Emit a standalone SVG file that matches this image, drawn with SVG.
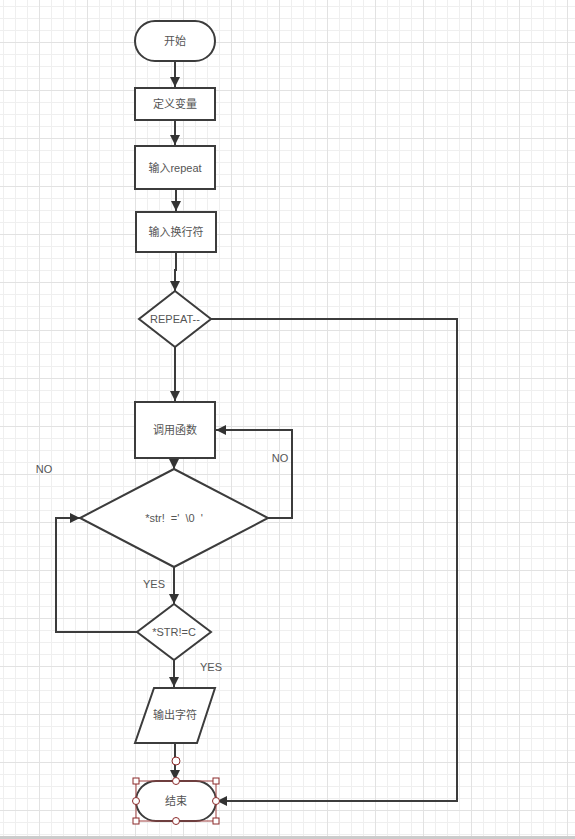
<svg xmlns="http://www.w3.org/2000/svg" width="575" height="839" viewBox="0 0 575 839">
<defs>
<pattern id="minor" width="12" height="12" patternUnits="userSpaceOnUse" x="3" y="6">
<path d="M0.5 0V12M0 0.5H12" fill="none" stroke="#efefef" stroke-width="1"/>
</pattern>
<pattern id="major" width="48" height="48" patternUnits="userSpaceOnUse" x="39" y="42">
<path d="M0.5 0V48M0 0.5H48" fill="none" stroke="#e2e2e2" stroke-width="1"/>
</pattern>
<marker id="arr" markerWidth="10" markerHeight="10" viewBox="0 0 10 10" refX="10" refY="5" orient="auto" markerUnits="userSpaceOnUse">
<path d="M0 0L10 5L0 10Z" fill="#333"/>
</marker>
</defs>
<style>
.n{fill:#fff;stroke:#3c3c3c;stroke-width:2}
.t{font-family:"Liberation Sans","Noto Sans CJK SC",sans-serif;font-size:11px;fill:#555;text-anchor:middle;dominant-baseline:central}
.e{fill:none;stroke:#3c3c3c;stroke-width:2}
.h{fill:#fff;stroke:#8b2a2a;stroke-width:1}
</style>
<rect width="575" height="839" fill="#fff"/>
<rect width="575" height="839" fill="url(#minor)"/>
<rect width="575" height="839" fill="url(#major)"/>
<rect x="0" y="836" width="575" height="3" fill="#cccccc"/>

<g id="connectors">
<path class="e" d="M175 61V87" marker-end="url(#arr)"/>
<path class="e" d="M175 120V145" marker-end="url(#arr)"/>
<path class="e" d="M176 189V211" marker-end="url(#arr)"/>
<path class="e" d="M176 252V270H175V291" marker-end="url(#arr)"/>
<path class="e" d="M175 347V401" marker-end="url(#arr)"/>
<path class="e" d="M174 458V469" marker-end="url(#arr)"/>
<path class="e" d="M268 518H292V430H216" marker-end="url(#arr)"/>
<path class="e" d="M174 567V604" marker-end="url(#arr)"/>
<path class="e" d="M137 632H56V518H80" marker-end="url(#arr)"/>
<path class="e" d="M174 660V687" marker-end="url(#arr)"/>
<path class="e" d="M175 743V780" marker-end="url(#arr)"/>
<path class="e" d="M211 319H457V801H217" marker-end="url(#arr)"/>
<text class="t" x="44" y="469">NO</text>
<text class="t" x="280" y="458">NO</text>
<text class="t" x="154" y="584">YES</text>
<text class="t" x="211" y="667">YES</text>
</g>

<g id="start">
<rect class="n" x="135" y="21" width="80" height="40" rx="20"/>
<text class="t" x="175" y="41">开始</text>
</g>
<g id="define">
<rect class="n" x="135" y="88" width="80" height="32"/>
<text class="t" x="175" y="104">定义变量</text>
</g>
<g id="inputRepeat">
<rect class="n" x="135" y="146" width="80" height="43"/>
<text class="t" x="175" y="168">输入repeat</text>
</g>
<g id="inputNewline">
<rect class="n" x="136" y="212" width="80" height="40"/>
<text class="t" x="176" y="232">输入换行符</text>
</g>
<g id="repeat">
<path class="n" d="M175 291L211 319L175 347L139 319Z"/>
<text class="t" x="175" y="319">REPEAT--</text>
</g>
<g id="call">
<rect class="n" x="135" y="402" width="80" height="56"/>
<text class="t" x="175" y="430">调用函数</text>
</g>
<g id="checkStr">
<path class="n" d="M174 469L268 518L174 567L80 518Z"/>
<text class="t" x="174" y="518" xml:space="preserve">*str!  ='  \0  '</text>
</g>
<g id="checkC">
<path class="n" d="M174 604L211 632L174 660L137 632Z"/>
<text class="t" x="174" y="632">*STR!=C</text>
</g>
<g id="output">
<path class="n" d="M154 688H215L197 743H135Z"/>
<text class="t" x="175" y="715">输出字符</text>
</g>
<g id="end">
<rect class="n" x="136" y="781" width="80" height="40" rx="20"/>
<text class="t" x="176" y="801">结束</text>
<rect x="136" y="781" width="80" height="40" fill="none" stroke="#a04040" stroke-width="1"/>
<rect class="h" x="133" y="778" width="6" height="6"/>
<rect class="h" x="213" y="778" width="6" height="6"/>
<rect class="h" x="133" y="818" width="6" height="6"/>
<rect class="h" x="213" y="818" width="6" height="6"/>
<circle class="h" cx="176" cy="781" r="3.5"/>
<circle class="h" cx="136" cy="801" r="3.5"/>
<circle class="h" cx="216" cy="801" r="3.5"/>
<circle class="h" cx="176" cy="821" r="3.5"/>
<circle class="h" cx="176" cy="761" r="4"/>
</g>
</svg>
